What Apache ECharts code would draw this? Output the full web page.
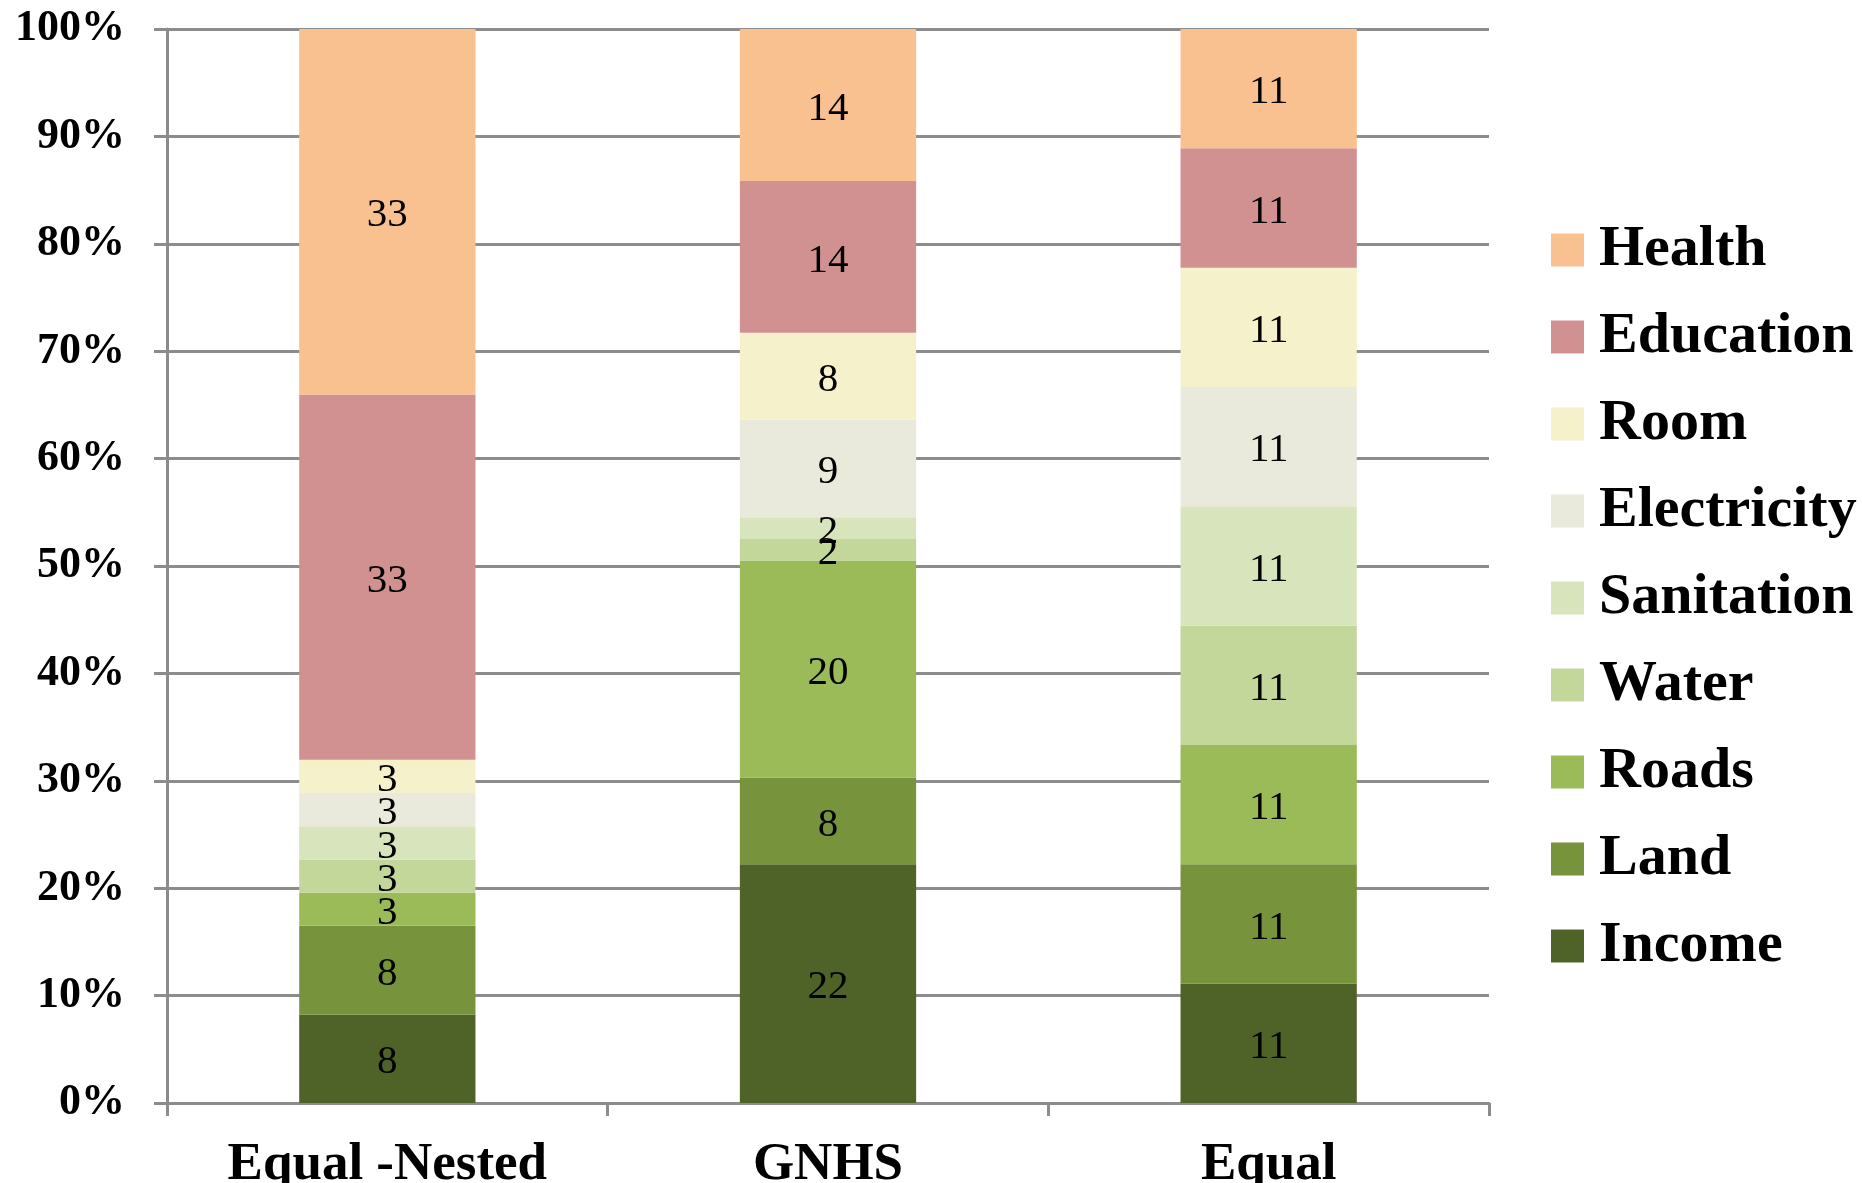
<!DOCTYPE html>
<html>
<head>
<meta charset="utf-8">
<title>Indicator weights by scheme</title>
<script src="https://cdn.jsdelivr.net/npm/echarts@6/dist/echarts.min.js"></script>
<style>
  html, body { margin: 0; padding: 0; background: #ffffff; }
  #chart { width: 1862px; height: 1183px; }
</style>
</head>
<body>
<div id="chart"></div>
<script>
// Weighting schemes (x categories)
const categories = ['Equal -Nested', 'GNHS', 'Equal'];

// Indicator weights per scheme, stacked bottom to top
const income      = [8, 22, 11];
const land        = [8, 8, 11];
const roads       = [3, 20, 11];
const water       = [3, 2, 11];
const sanitation  = [3, 2, 11];
const electricity = [3, 9, 11];
const room        = [3, 8, 11];
const education   = [33, 14, 11];
const health      = [33, 14, 11];

// Y-axis tick labels (percent of the stacked column)
const yTicks = [0, 10, 20, 30, 40, 50, 60, 70, 80, 90, 100];

const seriesDefs = [
  { name: 'Income',      data: income,      color: '#4F6228' },
  { name: 'Land',        data: land,        color: '#77933C' },
  { name: 'Roads',       data: roads,       color: '#9BBB59' },
  { name: 'Water',       data: water,       color: '#C4D79B' },
  { name: 'Sanitation',  data: sanitation,  color: '#D8E4BC' },
  { name: 'Electricity', data: electricity, color: '#EAEADC' },
  { name: 'Room',        data: room,        color: '#F5F1CA' },
  { name: 'Education',   data: education,   color: '#D19191' },
  { name: 'Health',      data: health,      color: '#F9C090' }
];

// Column totals, used to turn each weight into its share of 100%
const totals = categories.map((_, i) =>
  seriesDefs.reduce((s, d) => s + d.data[i], 0));

const serif = '"Liberation Serif", "Times New Roman", serif';

const series = seriesDefs.map(d => ({
  name: d.name,
  type: 'bar',
  stack: 'share',
  barCategoryGap: '60%',
  itemStyle: { color: d.color },
  label: {
    show: true,
    position: 'inside',
    offset: [0, 4],
    color: '#000000',
    fontFamily: serif,
    fontSize: 41,
    fontWeight: 'normal',
    formatter: p => String(d.data[p.dataIndex])
  },
  data: d.data.map((v, i) => v / totals[i] * 100)
}));

const chart = echarts.init(document.getElementById('chart'), null, { renderer: 'canvas' });
chart.setOption({
  animation: false,
  backgroundColor: '#ffffff',
  grid: {
    left: 167, right: 373, top: 29, bottom: 80,
    containLabel: false,
    outerBoundsMode: 'none'
  },
  legend: {
    orient: 'vertical',
    left: 1551,
    top: 221,
    padding: 0,
    itemWidth: 33,
    itemHeight: 33,
    itemGap: 29,
    icon: 'rect',
    data: seriesDefs.map(d => d.name).reverse(),
    textStyle: {
      fontFamily: serif,
      fontSize: 58,
      fontWeight: 'bold',
      color: '#000000',
      lineHeight: 58,
      padding: [0, 0, 0, 10]
    }
  },
  xAxis: {
    type: 'category',
    data: categories,
    axisLine: { lineStyle: { color: '#8C8C8C', width: 3 } },
    axisTick: { show: true, length: 13, lineStyle: { color: '#8C8C8C', width: 3 } },
    axisLabel: {
      margin: 36,
      color: '#000000',
      fontFamily: serif,
      fontSize: 53,
      fontWeight: 'bold'
    }
  },
  yAxis: {
    type: 'value',
    min: yTicks[0],
    max: yTicks[yTicks.length - 1],
    interval: yTicks[1] - yTicks[0],
    axisLine: { show: true, lineStyle: { color: '#8C8C8C', width: 3 } },
    axisTick: { show: true, length: 13, lineStyle: { color: '#8C8C8C', width: 3 } },
    splitLine: { show: true, lineStyle: { color: '#8C8C8C', width: 3 } },
    axisLabel: {
      margin: 42,
      color: '#000000',
      fontFamily: serif,
      fontSize: 44,
      fontWeight: 'bold',
      formatter: '{value}%'
    }
  },
  series: series
});
</script>
</body>
</html>
